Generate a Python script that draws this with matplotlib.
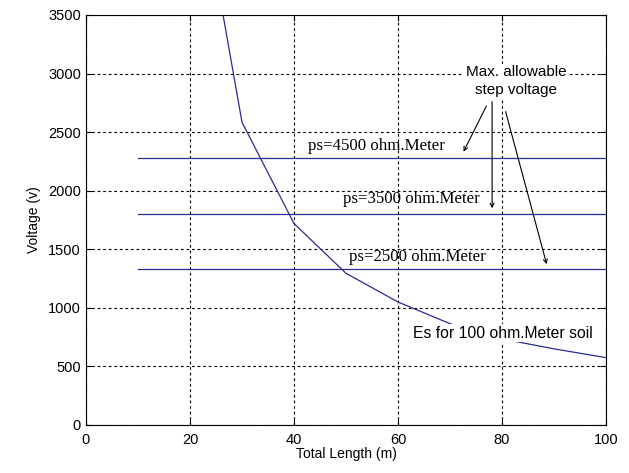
import matplotlib.pyplot as plt

# Es curve for 100 ohm.Meter soil
length_m = [20, 30, 40, 50, 60, 70, 80, 90, 100]
es_volts = [5100, 2585, 1720, 1295, 1050, 865, 735, 650, 575]

# max. allowable step voltage for each soil resistivity
limit_x = [10, 100]
limit_labels = ['ps=4500 ohm.Meter', 'ps=3500 ohm.Meter', 'ps=2500 ohm.Meter']
limit_volts = [2280, 1800, 1330]
label_pos = [(42.7, 2384), (49.5, 1927), (50.6, 1437)]

line_col = '#2a2a96'

plt.rcParams['font.family'] = ['Liberation Sans', 'DejaVu Sans']
fig = plt.figure(figsize=(6.29, 4.73), dpi=100)
ax = fig.add_axes([0.1367, 0.1015, 0.8267, 0.8668])

ax.plot(length_m, es_volts, color=line_col, lw=0.9, zorder=2)
for v in limit_volts:
    ax.plot(limit_x, [v, v], color=line_col, lw=0.9, zorder=2)

for lab, (x, y) in zip(limit_labels, label_pos):
    ax.text(x, y, lab, family='Liberation Serif', fontsize=12.2, va='center', ha='left', zorder=4)

ax.text(82.7, 2935, 'Max. allowable\nstep voltage', fontsize=11, ha='center', va='center',
        linespacing=1.35, bbox=dict(fc='white', ec='none', pad=1), zorder=4)
ax.text(62.9, 785, 'Es for 100 ohm.Meter soil', fontsize=11.3, ha='left', va='center',
        bbox=dict(fc='white', ec='none', pad=1), zorder=4)

# arrows from the "Max. allowable" note to each line
arrows = [((77.0, 2723), (72.6, 2333)),
          ((78.1, 2760), (78.1, 1850)),
          ((80.7, 2675), (88.6, 1372))]
for start, end in arrows:
    ax.annotate('', xy=end, xytext=start, zorder=5,
                arrowprops=dict(arrowstyle='->', color='black', lw=0.8,
                                mutation_scale=7, shrinkA=0, shrinkB=0))

ax.set_xlim(0, 100)
ax.set_ylim(0, 3500)
ax.set_xticks(range(0, 101, 20))
ax.set_yticks(range(0, 3501, 500))
ax.grid(True, color='black', linestyle=(0, (2.5, 2.5)), lw=0.8)
ax.tick_params(direction='in', top=True, right=True, length=4, labelsize=10.5, width=0.8)
ax.tick_params(axis='x', pad=6)
for s in ax.spines.values():
    s.set_linewidth(0.8)

ax.set_xlabel('Total Length (m)', fontsize=10, labelpad=0)
ax.set_ylabel('Voltage (v)', fontsize=10, labelpad=5)

fig.savefig('out.png', dpi=100)
